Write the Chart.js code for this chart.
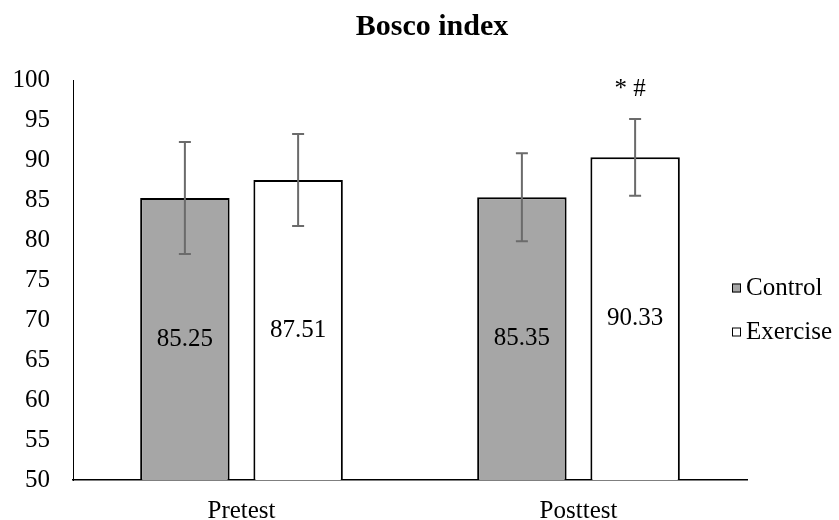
<!DOCTYPE html>
<html>
<head>
<meta charset="utf-8">
<script src="https://cdn.jsdelivr.net/npm/chart.js@4.4.1/dist/chart.umd.min.js"></script>
<style>
  html, body { margin: 0; padding: 0; background: #fff; }
  #wrap { width: 839px; height: 520px; }
</style>
</head>
<body>
<div id="wrap"><canvas id="chart"></canvas></div>
<script>
// data
const categories = ['Pretest', 'Posttest'];
const seriesNames = ['Control', 'Exercise'];
const controlMeans = [85.25, 85.35];
const exerciseMeans = [87.51, 90.33];
const controlSD = [7.0, 5.5];
const exerciseSD = [5.75, 4.8];
const exerciseMarks = ['', '* #'];
const yMin = 50, yMax = 100, yStep = 5;

const errors = [controlSD, exerciseSD];
const marks = [['', ''], exerciseMarks];

Chart.defaults.font.family = '"Liberation Serif", "Times New Roman", serif';
Chart.defaults.font.size = 25;
Chart.defaults.color = '#000';

// error bars, value labels, significance marks and the legend
const extras = {
    id: 'extras',
    afterDatasetsDraw(chart) {
        const ctx = chart.ctx;
        const y = chart.scales.y;
        const floor = chart.chartArea.bottom;
        ctx.save();
        chart.data.datasets.forEach((ds, i) => {
            const meta = chart.getDatasetMeta(i);
            meta.data.forEach((bar, j) => {
                const v = ds.data[j];
                const e = errors[i][j];
                const top = y.getPixelForValue(v + e);
                const bot = y.getPixelForValue(v - e);
                ctx.strokeStyle = '#6b6b6b';
                ctx.lineWidth = 2;
                ctx.beginPath();
                ctx.moveTo(bar.x, top); ctx.lineTo(bar.x, bot);
                ctx.moveTo(bar.x - 6, top); ctx.lineTo(bar.x + 6, top);
                ctx.moveTo(bar.x - 6, bot); ctx.lineTo(bar.x + 6, bot);
                ctx.stroke();

                ctx.fillStyle = '#000';
                ctx.font = '25px "Liberation Serif", serif';
                ctx.textAlign = 'center';
                ctx.textBaseline = 'middle';
                ctx.fillText(v.toFixed(2), bar.x, (bar.y + floor) / 2);

                if (marks[i][j]) {
                    ctx.textBaseline = 'alphabetic';
                    ctx.fillText(marks[i][j], bar.x - 5, top - 23);
                }
            });
        });
        ctx.restore();
    },
    afterDraw(chart) {
        const ctx = chart.ctx;
        ctx.save();
        ctx.font = '25px "Liberation Serif", serif';
        ctx.textAlign = 'left';
        ctx.textBaseline = 'middle';
        chart.data.datasets.forEach((ds, i) => {
            const cy = 288 + i * 44;
            ctx.fillStyle = ds.backgroundColor;
            ctx.fillRect(732, cy - 4.5, 9, 9);
            ctx.strokeStyle = '#000';
            ctx.lineWidth = 1;
            ctx.strokeRect(732.5, cy - 4, 8, 8);
            ctx.fillStyle = '#000';
            ctx.fillText(ds.label, 746, cy);
        });
        ctx.restore();
    }
};

const ctx = document.getElementById('chart').getContext('2d');
const chart = new Chart(ctx, {
    type: 'bar',
    data: {
        labels: categories,
        datasets: [
            { label: seriesNames[0], data: controlMeans, backgroundColor: '#a6a6a6', borderColor: '#000', borderWidth: 2 },
            { label: seriesNames[1], data: exerciseMeans, backgroundColor: '#ffffff', borderColor: '#000', borderWidth: 2 }
        ]
    },
    options: {
        responsive: true,
        maintainAspectRatio: false,
        animation: false,
        // negative right padding just moves the title centre to the right
        layout: { padding: { left: 0, right: -25, top: 0, bottom: 0 } },
        datasets: { bar: { categoryPercentage: 0.672, barPercentage: 0.79 } },
        plugins: {
            legend: { display: false },
            tooltip: { enabled: false },
            title: {
                display: true,
                text: 'Bosco index',
                font: { size: 30, weight: 'bold' },
                color: '#000',
                padding: { top: 9, bottom: 35 }
            }
        },
        scales: {
            x: {
                grid: { display: false },
                border: { color: '#000', width: 1.5 },
                ticks: { padding: 8, font: { size: 25 } },
                afterFit: s => { s.height = 40; }
            },
            y: {
                min: yMin,
                max: yMax,
                grid: { display: false, drawTicks: false },
                border: { color: '#000', width: 1 },
                ticks: { stepSize: yStep, padding: 23, font: { size: 25 } },
                afterFit: s => { s.width = 73; }
            },
            // empty axis that keeps room on the right for the legend
            side: {
                position: 'right',
                grid: { display: false },
                border: { display: false },
                ticks: { display: false },
                afterFit: s => { s.width = 117; }
            }
        }
    },
    plugins: [extras]
});
</script>
</body>
</html>
